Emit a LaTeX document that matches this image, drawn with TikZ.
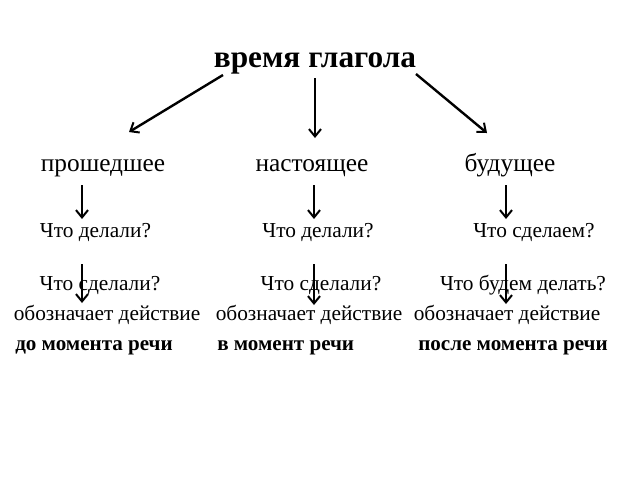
\documentclass[tikz,border=0pt]{standalone}
\usepackage{fontspec}
\setmainfont{Liberation Serif}
\usetikzlibrary{arrows.meta}
\tikzset{
  px/.style={x=0.75pt,y=-0.75pt},
  ttl/.style={font=\fontsize{23.5}{28}\selectfont\bfseries, anchor=base, inner sep=0pt},
  cat/.style={font=\fontsize{19}{23}\selectfont, anchor=base, inner sep=0pt},
  qst/.style={font=\fontsize{16}{19}\selectfont, anchor=base, inner sep=0pt},
  bld/.style={font=\fontsize{15.8}{19}\selectfont\bfseries, anchor=base west, inner sep=0pt},
  arr/.style={line width=1.8pt, -{Straight Barb[length=5.5pt,width=9pt,line width=1.5pt]}}
}
\begin{document}
\begin{tikzpicture}[px]
\useasboundingbox (0,0) rectangle (640,480);
\fill[white] (0,0) rectangle (640,480);
\node[ttl] (title) at (315,67) {время глагола};
\node[cat] (past) at (103,171) {прошедшее};
\node[cat] (pres) at (312,171) {настоящее};
\node[cat] (fut) at (510,171) {будущее};
\node[qst] (q1) at (95.5,237) {Что делали?};
\node[qst] (q2) at (318,237) {Что делали?};
\node[qst] (q3) at (534,237) {Что сделаем?};
\node[qst] (r1) at (100,290) {Что сделали?};
\node[qst] (r2) at (321,290) {Что сделали?};
\node[qst] (r3) at (523,290) {Что будем делать?};
\node[qst] (d1) at (107,320) {обозначает действие};
\node[qst] (d2) at (309,320) {обозначает действие};
\node[qst] (d3) at (507,320) {обозначает действие};
\node[bld] (m1) at (15,350) {до момента речи};
\node[bld] (m2) at (217,350) {в момент речи};
\node[bld] (m3) at (418,350) {после момента речи};
% arrow endpoints
\coordinate (tL) at (223,75); \coordinate (hL) at (129,132);
\coordinate (tM) at (315,78); \coordinate (hM) at (315,138);
\coordinate (tR) at (416,74); \coordinate (hR) at (487,133);
\coordinate (a1s) at (82,185); \coordinate (a1e) at (82,219);
\coordinate (a2s) at (314,185); \coordinate (a2e) at (314,219);
\coordinate (a3s) at (506,185); \coordinate (a3e) at (506,219);
\coordinate (b1s) at (82,264); \coordinate (b1e) at (82,303);
\coordinate (b2s) at (314,264); \coordinate (b2e) at (314,305);
\coordinate (b3s) at (506,264); \coordinate (b3e) at (506,304);
\draw[arr] (tL) -- (hL);
\draw[arr] (tM) -- (hM);
\draw[arr] (tR) -- (hR);
\draw[arr] (a1s) -- (a1e);
\draw[arr] (a2s) -- (a2e);
\draw[arr] (a3s) -- (a3e);
\draw[arr] (b1s) -- (b1e);
\draw[arr] (b2s) -- (b2e);
\draw[arr] (b3s) -- (b3e);
\end{tikzpicture}
\end{document}
